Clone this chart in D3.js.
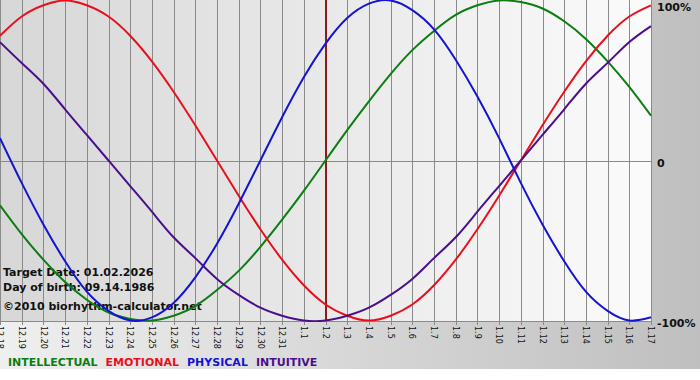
<!DOCTYPE html>
<html>
<head>
<meta charset="utf-8">
<script src="https://cdn.jsdelivr.net/npm/d3@7"></script>
<style>
  body { margin: 0; background: #fff; }
  svg { display: block; }
  text { font-family: "DejaVu Sans", Verdana, sans-serif; }
</style>
</head>
<body>
<div id="chart"></div>
<script>
// day labels (month.day), 12.18 .. 1.17
const days = ["12.18", "12.19", "12.20", "12.21", "12.22", "12.23", "12.24", "12.25", "12.26", "12.27",
    "12.28", "12.29", "12.30", "12.31", "1.1", "1.2", "1.3", "1.4", "1.5", "1.6", "1.7", "1.8", "1.9",
    "1.10", "1.11", "1.12", "1.13", "1.14", "1.15", "1.16", "1.17"]
const targetDay = "1.2"

// series values, one per day (-1 .. 1)
const intellectual = [-0.28, -0.46, -0.62, -0.76, -0.87, -0.95, -0.99, -1.00, -0.97, -0.91, -0.81,
    -0.69, -0.54, -0.37, -0.19, 0.00, 0.19, 0.37, 0.54, 0.69, 0.81, 0.91, 0.97, 1.00, 0.99, 0.95,
    0.87, 0.76, 0.62, 0.46, 0.28]
const emotional = [0.78, 0.90, 0.97, 1.00, 0.97, 0.90, 0.78, 0.62, 0.43, 0.22, 0.00, -0.22, -0.43,
    -0.62, -0.78, -0.90, -0.97, -1.00, -0.97, -0.90, -0.78, -0.62, -0.43, -0.22, 0.00, 0.22, 0.43,
    0.62, 0.78, 0.90, 0.97]
const physical = [0.14, -0.14, -0.40, -0.63, -0.82, -0.94, -1.00, -0.98, -0.89, -0.73, -0.52, -0.27,
    0.00, 0.27, 0.52, 0.73, 0.89, 0.98, 1.00, 0.94, 0.82, 0.63, 0.40, 0.14, -0.14, -0.40, -0.63,
    -0.82, -0.94, -1.00, -0.98]
const intuitive = [0.74, 0.61, 0.48, 0.32, 0.16, 0.00, -0.16, -0.32, -0.48, -0.61, -0.74, -0.84,
    -0.92, -0.97, -1.00, -1.00, -0.97, -0.92, -0.84, -0.74, -0.61, -0.48, -0.32, -0.16, 0.00, 0.16,
    0.32, 0.48, 0.61, 0.74, 0.84]

const seriesNames = ["INTELLECTUAL", "EMOTIONAL", "PHYSICAL", "INTUITIVE"]
const seriesColors = ["#0b7d12", "#e8101c", "#1414d2", "#4b0f8c"]
const seriesValues = [intellectual, emotional, physical, intuitive]

const yTicks = [1, 0, -1]
const yTickLabels = ["100%", "0", "-100%"]
const infoLines = ["Target Date: 01.02.2026", "Day of birth: 09.14.1986", "\u00a92010 biorhythm-calculator.net"]

const width = 700
const height = 369
const plotRight = 651
const plotBottom = 321

const x = d3.scalePoint().domain(days).range([0, plotRight])
const y = d3.scaleLinear().domain([-1, 1]).range([320.5, 0.5])

const svg = d3.select("#chart").append("svg")
    .attr("width", width)
    .attr("height", height)

const defs = svg.append("defs")
const outerGrad = defs.append("linearGradient").attr("id", "outerGrad")
outerGrad.append("stop").attr("offset", "0%").attr("stop-color", "#efefef")
outerGrad.append("stop").attr("offset", "100%").attr("stop-color", "#bfbfbf")
const plotGrad = defs.append("linearGradient").attr("id", "plotGrad")
plotGrad.append("stop").attr("offset", "0%").attr("stop-color", "#d7d7d7")
plotGrad.append("stop").attr("offset", "100%").attr("stop-color", "#fbfbfb")
defs.append("clipPath").attr("id", "plotClip")
    .append("rect").attr("x", 0).attr("y", 0).attr("width", plotRight + 1).attr("height", plotBottom + 1)

svg.append("rect").attr("width", width).attr("height", height).attr("fill", "url(#outerGrad)")
svg.append("rect").attr("width", plotRight).attr("height", plotBottom).attr("fill", "url(#plotGrad)")

// vertical day grid + ticks
svg.append("g")
    .attr("stroke", "#8a8a8a")
    .attr("stroke-width", 1)
    .selectAll("line")
    .data(days)
    .join("line")
    .attr("x1", d => Math.round(x(d)) + 0.5)
    .attr("x2", d => Math.round(x(d)) + 0.5)
    .attr("y1", 0)
    .attr("y2", plotBottom + 4)

// zero line and bottom axis
svg.append("g")
    .attr("stroke", "#8a8a8a")
    .selectAll("line")
    .data([0, -1])
    .join("line")
    .attr("x1", 0)
    .attr("x2", plotRight + 1)
    .attr("y1", d => Math.round(y(d)) + 0.5)
    .attr("y2", d => Math.round(y(d)) + 0.5)

// target date marker
svg.append("line")
    .attr("x1", x(targetDay) + 0.5)
    .attr("x2", x(targetDay) + 0.5)
    .attr("y1", 0)
    .attr("y2", plotBottom)
    .attr("stroke", "#8c1c1c")
    .attr("stroke-width", 2)

// x tick labels, rotated
svg.append("g")
    .attr("font-size", 8)
    .attr("fill", "#111")
    .selectAll("text")
    .data(days)
    .join("text")
    .attr("transform", d => `translate(${x(d)},${plotBottom + 5}) rotate(90)`)
    .attr("dy", "0.35em")
    .text(d => d)

// y labels on the right
svg.append("g")
    .attr("font-size", 11)
    .attr("font-weight", "bold")
    .attr("fill", "#111")
    .selectAll("text")
    .data(yTicks)
    .join("text")
    .attr("x", 657)
    .attr("y", d => Math.max(y(d) + 6, 11))
    .text((d, i) => yTickLabels[i])

// info text
svg.append("g")
    .attr("font-size", 11)
    .attr("font-weight", "bold")
    .attr("fill", "#111")
    .selectAll("text")
    .data(infoLines)
    .join("text")
    .attr("x", 3)
    .attr("y", (d, i) => [276, 291, 310][i])
    .text(d => d)

// curves
const line = d3.line()
    .x((d, i) => x(days[i]))
    .y(d => y(d))
    .curve(d3.curveNatural)

svg.append("g")
    .attr("clip-path", "url(#plotClip)")
    .attr("fill", "none")
    .attr("stroke-width", 2)
    .attr("stroke-linejoin", "round")
    .selectAll("path")
    .data(seriesValues)
    .join("path")
    .attr("stroke", (d, i) => seriesColors[i])
    .attr("d", d => line(d))

// legend
const legend = svg.append("g")
    .attr("font-size", 11)
    .attr("font-weight", "bold")
let lx = 8
seriesNames.forEach((name, i) => {
    const t = legend.append("text")
        .attr("x", lx)
        .attr("y", 366)
        .attr("fill", seriesColors[i])
        .text(name)
    lx += t.node().getComputedTextLength() + 8
})
</script>
</body>
</html>
